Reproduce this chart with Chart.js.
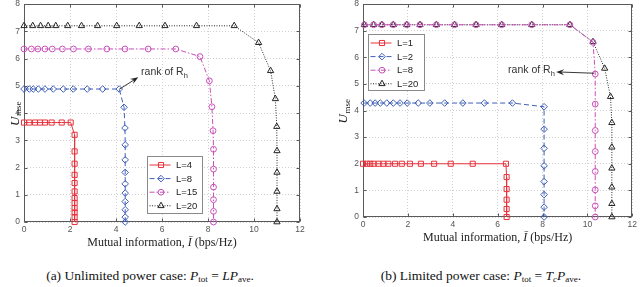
<!DOCTYPE html>
<html>
<head>
<meta charset="utf-8">
<title>U_mse versus mutual information</title>
<script src="https://cdn.jsdelivr.net/npm/chart.js@4.4.1/dist/chart.umd.min.js"></script>
<style>
  body { margin: 0; background: #fff; }
  #page { position: relative; width: 640px; height: 287px; overflow: hidden; background: #fff; }
  canvas { position: absolute; top: -6px; }
  #chartA { left: 0; }
  #chartB { left: 320px; }
  .cap {
    position: absolute; top: 268px; line-height: 16px;
    font: 13.5px "Liberation Serif", "Times New Roman", serif; color: #111;
    white-space: nowrap; transform: translateX(-50%);
  }
  .cap sub { font-size: 9px; line-height: 0; vertical-align: -2px; }
</style>
</head>
<body>
<div id="page">
  <canvas id="chartA" width="320" height="256"></canvas>
  <canvas id="chartB" width="320" height="256"></canvas>
  <div class="cap" style="left:150px">(a) Unlimited power case: <i>P</i><sub>tot</sub> = <i>LP</i><sub>ave</sub>.</div>
  <div class="cap" style="left:481px">(b) Limited power case: <i>P</i><sub>tot</sub> = <i>T</i><sub><i>c</i></sub><i>P</i><sub>ave</sub>.</div>
</div>
<script>
const xTicks = [0, 2, 4, 6, 8, 10, 12];
const yTicks = [0, 1, 2, 3, 4, 5, 6, 7, 8];

// (a) unlimited power
const aLabels = ["L=4", "L=8", "L=15", "L=20"];
const aL4x = [0, 0.23, 0.48, 0.7, 0.91, 1.2, 1.64, 2.03, 2.2, 2.2, 2.2, 2.2, 2.2, 2.2, 2.2, 2.2, 2.2, 2.2, 2.2, 2.2];
const aL4y = [3.65, 3.65, 3.65, 3.65, 3.65, 3.65, 3.65, 3.65, 3.2, 2.59, 2.14, 1.73, 1.43, 1.12, 0.88, 0.7, 0.51, 0.35, 0.18, 0];
const aL8x = [0, 0.23, 0.4, 0.62, 0.91, 1.27, 1.71, 2.14, 2.75, 3.42, 4.14, 4.35, 4.39, 4.4, 4.4, 4.4, 4.4, 4.4, 4.4, 4.4, 4.4, 4.4];
const aL8y = [4.88, 4.88, 4.88, 4.88, 4.88, 4.88, 4.88, 4.88, 4.88, 4.88, 4.88, 4.21, 3.45, 2.83, 2.28, 1.82, 1.4, 1.06, 0.75, 0.45, 0.18, 0];
const aL15x = [0, 0.32, 0.6, 0.91, 1.23, 1.67, 2.15, 2.8, 3.6, 4.39, 5.4, 6.6, 7.65, 8.06, 8.17, 8.22, 8.24, 8.24, 8.24, 8.24, 8.24, 8.24];
const aL15y = [6.35, 6.35, 6.35, 6.35, 6.35, 6.35, 6.35, 6.35, 6.35, 6.35, 6.35, 6.35, 6.07, 5.18, 4.23, 3.35, 2.67, 1.94, 1.28, 0.82, 0.39, 0];
const aL20x = [0, 0.38, 0.72, 1.05, 1.38, 1.9, 2.5, 3.2, 4.03, 5.01, 6.13, 7.5, 9.14, 10.2, 10.72, 10.93, 10.99, 11, 11, 11, 11, 11];
const aL20y = [7.2, 7.2, 7.2, 7.2, 7.2, 7.2, 7.2, 7.2, 7.2, 7.2, 7.2, 7.2, 7.2, 6.58, 5.55, 4.52, 3.5, 2.61, 1.82, 1.12, 0.48, 0];

// (b) limited power
const bLabels = ["L=1", "L=2", "L=8", "L=20"];
const bL1x = [0, 0.18, 0.32, 0.47, 0.69, 0.91, 1.13, 1.43, 1.73, 2.09, 2.58, 3.17, 3.91, 4.89, 6.37, 6.4, 6.4, 6.4, 6.4, 6.4];
const bL1y = [2, 2, 2, 2, 2, 2, 2, 2, 2, 2, 2, 2, 2, 2, 2, 1.5, 1.05, 0.65, 0.3, 0];
const bL2x = [0.05, 0.32, 0.54, 0.77, 1.06, 1.35, 1.65, 1.97, 2.46, 2.98, 3.64, 4.45, 5.41, 6.66, 8.07, 8.07, 8.07, 8.07, 8.07, 8.07, 8.07, 8.07];
const bL2y = [4.28, 4.28, 4.28, 4.28, 4.28, 4.28, 4.28, 4.28, 4.28, 4.28, 4.28, 4.28, 4.28, 4.28, 4.14, 3.3, 2.58, 1.92, 1.33, 0.84, 0.37, 0];
const bL8x = [0.06, 0.47, 0.84, 1.35, 1.95, 2.54, 3.27, 4.08, 5.04, 6.18, 7.52, 9.22, 10.25, 10.35, 10.35, 10.35, 10.35, 10.35, 10.35, 10.35, 10.35];
const bL8y = [7.22, 7.22, 7.22, 7.22, 7.22, 7.22, 7.22, 7.22, 7.22, 7.22, 7.22, 7.22, 6.56, 5.37, 4.24, 3.25, 2.46, 1.71, 1.02, 0.42, 0];
const bL20x = [0.06, 0.47, 0.84, 1.35, 1.95, 2.54, 3.27, 4.08, 5.04, 6.18, 7.52, 9.22, 10.25, 10.77, 11.03, 11.09, 11.09, 11.09, 11.09, 11.09, 11.09];
const bL20y = [7.22, 7.22, 7.22, 7.22, 7.22, 7.22, 7.22, 7.22, 7.22, 7.22, 7.22, 7.22, 6.58, 5.58, 4.52, 3.54, 2.62, 1.83, 1.12, 0.5, 0];

// red solid squares, blue dashed diamonds, magenta dash-dot circles, black dotted triangles
const styles = [
    { color: "#e8333c", dash: [], point: "rect", r: 3.6 },
    { color: "#3f5fb8", dash: [5, 3], point: "rectRot", r: 3.3 },
    { color: "#c94fb9", dash: [5, 2, 1.5, 2], point: "circle", r: 2.9 },
    { color: "#262626", dash: [1, 1.5], point: "triangle", r: 3.6 }
];

const SANS = '"Liberation Sans", Arial, sans-serif';
const SERIF = '"Liberation Serif", "Times New Roman", serif';

function pts(xs, ys) {
    return xs.map((x, i) => ({ x: x, y: ys[i] }));
}

function series(label, xs, ys, st) {
    return {
        label: label,
        data: pts(xs, ys),
        showLine: true,
        borderColor: st.color,
        borderWidth: 1,
        borderDash: st.dash,
        pointStyle: st.point,
        pointRadius: st.r,
        pointHoverRadius: st.r,
        pointBorderColor: st.color,
        pointBackgroundColor: "rgba(0,0,0,0)",
        pointBorderWidth: 1,
        clip: false
    };
}

function drawMarker(ctx, style, x, y, r) {
    ctx.beginPath();
    if (style === "rect") {
        const s = r * Math.SQRT1_2;
        ctx.rect(x - s, y - s, 2 * s, 2 * s);
    } else if (style === "rectRot") {
        ctx.moveTo(x - r, y); ctx.lineTo(x, y - r); ctx.lineTo(x + r, y); ctx.lineTo(x, y + r);
        ctx.closePath();
    } else if (style === "triangle") {
        ctx.moveTo(x, y - r); ctx.lineTo(x + 0.866 * r, y + 0.5 * r); ctx.lineTo(x - 0.866 * r, y + 0.5 * r);
        ctx.closePath();
    } else {
        ctx.arc(x, y, r, 0, Math.PI * 2);
    }
    ctx.stroke();
}

// frame, inward ticks, axis titles, "rank of R_h" note, legend box
const decor = {
    id: "decor",
    beforeDatasetsDraw(chart, args, o) {
        const { ctx, chartArea: a, scales: { x, y } } = chart;
        const L = Math.round(a.left) + 0.5, R = Math.round(a.right) - 0.5;
        const T = Math.round(a.top) + 0.5, B = Math.round(a.bottom) - 0.5;
        ctx.save();
        ctx.strokeStyle = "#5a5a5a";
        ctx.lineWidth = 1;
        ctx.setLineDash([]);
        ctx.strokeRect(L, T, R - L, B - T);
        ctx.beginPath();
        xTicks.forEach(v => {
            const px = Math.round(x.getPixelForValue(v)) + 0.5;
            ctx.moveTo(px, B); ctx.lineTo(px, B - 3);
            ctx.moveTo(px, T); ctx.lineTo(px, T + 3);
        });
        yTicks.forEach(v => {
            const py = Math.round(y.getPixelForValue(v)) + 0.5;
            ctx.moveTo(L, py); ctx.lineTo(L + 3, py);
            ctx.moveTo(R, py); ctx.lineTo(R - 3, py);
        });
        ctx.stroke();

        // x title
        ctx.fillStyle = "#222";
        ctx.textBaseline = "middle";
        const parts = [["Mutual information, ", ""], ["\u012A", "italic "], [" (bps/Hz)", ""]];
        let total = 0;
        parts.forEach(p => { ctx.font = p[1] + "12px " + SERIF; p.push(ctx.measureText(p[0]).width); total += p[2]; });
        let tx = (a.left + a.right) / 2 - total / 2;
        const ty = a.bottom + o.xTitleDy;
        ctx.textAlign = "left";
        parts.forEach(p => { ctx.font = p[1] + "12px " + SERIF; ctx.fillText(p[0], tx, ty); tx += p[2]; });

        // y title U_mse, rotated
        ctx.save();
        ctx.translate(a.left + o.yTitleDx, (a.top + a.bottom) / 2 + 1);
        ctx.rotate(-Math.PI / 2);
        ctx.textBaseline = "alphabetic";
        ctx.font = "italic 13px " + SERIF;
        const wU = ctx.measureText("U").width;
        ctx.font = "9px " + SERIF;
        const wS = ctx.measureText("mse").width;
        const sx = -(wU + wS) / 2;
        ctx.font = "italic 13px " + SERIF;
        ctx.fillText("U", sx, 0);
        ctx.font = "9px " + SERIF;
        ctx.fillText("mse", sx + wU + 0.5, 2.5);
        ctx.restore();
        ctx.restore();
    },
    afterDatasetsDraw(chart, args, o) {
        const { ctx, chartArea: a, scales: { x, y } } = chart;
        ctx.save();

        // arrow
        const x1 = x.getPixelForValue(o.arrow.from[0]), y1 = y.getPixelForValue(o.arrow.from[1]);
        const x2 = x.getPixelForValue(o.arrow.to[0]), y2 = y.getPixelForValue(o.arrow.to[1]);
        const ang = Math.atan2(y2 - y1, x2 - x1);
        ctx.strokeStyle = "#222"; ctx.fillStyle = "#222"; ctx.lineWidth = 0.9;
        ctx.beginPath(); ctx.moveTo(x1, y1); ctx.lineTo(x2 - 5 * Math.cos(ang), y2 - 5 * Math.sin(ang)); ctx.stroke();
        ctx.beginPath();
        ctx.moveTo(x2, y2);
        ctx.lineTo(x2 - 8 * Math.cos(ang) + 3 * Math.sin(ang), y2 - 8 * Math.sin(ang) - 3 * Math.cos(ang));
        ctx.lineTo(x2 - 5 * Math.cos(ang), y2 - 5 * Math.sin(ang));
        ctx.lineTo(x2 - 8 * Math.cos(ang) - 3 * Math.sin(ang), y2 - 8 * Math.sin(ang) + 3 * Math.cos(ang));
        ctx.closePath(); ctx.fill();

        // note text
        ctx.fillStyle = "#333";
        ctx.textBaseline = "middle";
        ctx.textAlign = "left";
        ctx.font = "10.5px " + SANS;
        const wMain = ctx.measureText("rank of R").width;
        ctx.font = "7.5px " + SANS;
        const wSub = ctx.measureText("h").width;
        const nx = x.getPixelForValue(o.note.x) - (o.note.align === "right" ? wMain + wSub : 0);
        const ny = y.getPixelForValue(o.note.y);
        ctx.font = "10.5px " + SANS;
        ctx.fillText("rank of R", nx, ny);
        ctx.font = "7.5px " + SANS;
        ctx.fillText("h", nx + wMain, ny + 4);

        // legend
        const lg = o.legend;
        const bx = Math.round(a.left + lg.dx) + 0.5, by = Math.round(a.top + lg.dy) + 0.5;
        ctx.fillStyle = "#fff";
        ctx.fillRect(bx, by, lg.w, lg.h);
        ctx.strokeStyle = "#8a8a8a"; ctx.lineWidth = 1; ctx.setLineDash([]);
        ctx.strokeRect(bx, by, lg.w, lg.h);
        chart.data.datasets.forEach((ds, i) => {
            const ry = by + 8.5 + i * 13.6;
            ctx.strokeStyle = ds.borderColor;
            ctx.lineWidth = 1;
            ctx.setLineDash(ds.borderDash);
            ctx.beginPath(); ctx.moveTo(bx + 2, ry); ctx.lineTo(bx + 23, ry); ctx.stroke();
            ctx.setLineDash([]);
            drawMarker(ctx, ds.pointStyle, bx + 13.5, ry, ds.pointRadius);
            ctx.fillStyle = "#222";
            ctx.font = "9.5px " + SANS;
            ctx.textBaseline = "middle";
            ctx.fillText(ds.label, bx + 28.5, ry + 0.5);
        });
        ctx.restore();
    }
};

function makeChart(id, datasets, yWidth, xHeight, pad, extra) {
    const tickFont = { family: SANS, size: 8.5 };
    return new Chart(document.getElementById(id), {
        type: "scatter",
        data: { datasets: datasets },
        options: {
            responsive: false,
            animation: false,
            events: [],
            layout: { padding: pad },
            plugins: { legend: { display: false }, tooltip: { enabled: false }, decor: extra },
            scales: {
                x: {
                    type: "linear", min: 0, max: 12,
                    afterBuildTicks: s => { s.ticks = xTicks.map(v => ({ value: v })); },
                    afterFit: s => { s.height = xHeight; },
                    ticks: { color: "#555", font: tickFont, padding: 3, maxRotation: 0 },
                    grid: { color: "#cfcfcf", lineWidth: 1, drawTicks: false },
                    border: { display: false, dash: [1, 2] }
                },
                y: {
                    type: "linear", min: 0, max: 8,
                    afterBuildTicks: s => { s.ticks = yTicks.map(v => ({ value: v })); },
                    afterFit: s => { s.width = yWidth; },
                    ticks: { color: "#555", font: tickFont, padding: 4 },
                    grid: { color: "#cfcfcf", lineWidth: 1, drawTicks: false },
                    border: { display: false, dash: [1, 2] }
                }
            }
        },
        plugins: [decor]
    });
}

const aX = [aL4x, aL8x, aL15x, aL20x], aY = [aL4y, aL8y, aL15y, aL20y];
const bX = [bL1x, bL2x, bL8x, bL20x], bY = [bL1y, bL2y, bL8y, bL20y];

makeChart("chartA", aLabels.map((l, i) => series(l, aX[i], aY[i], styles[i])), 24, 28,
    { top: 10, right: 20, left: 0, bottom: 0 },
    {
        xTitleDy: 21, yTitleDx: -5.5,
        arrow: { from: [4.14, 4.87], to: [4.97, 5.31] },
        note: { x: 5.09, y: 5.5, align: "left" },
        legend: { dx: 122.7, dy: 152, w: 55, h: 57 }
    });

makeChart("chartB", bLabels.map((l, i) => series(l, bX[i], bY[i], styles[i])), 43, 33,
    { top: 10, right: 6, left: 0, bottom: 0 },
    {
        xTitleDy: 20.5, yTitleDx: -15.7,
        arrow: { from: [10.3, 5.4], to: [8.61, 5.45] },
        note: { x: 8.55, y: 5.52, align: "right" },
        legend: { dx: 4.6, dy: 30.3, w: 56, h: 56 }
    });
</script>
</body>
</html>
